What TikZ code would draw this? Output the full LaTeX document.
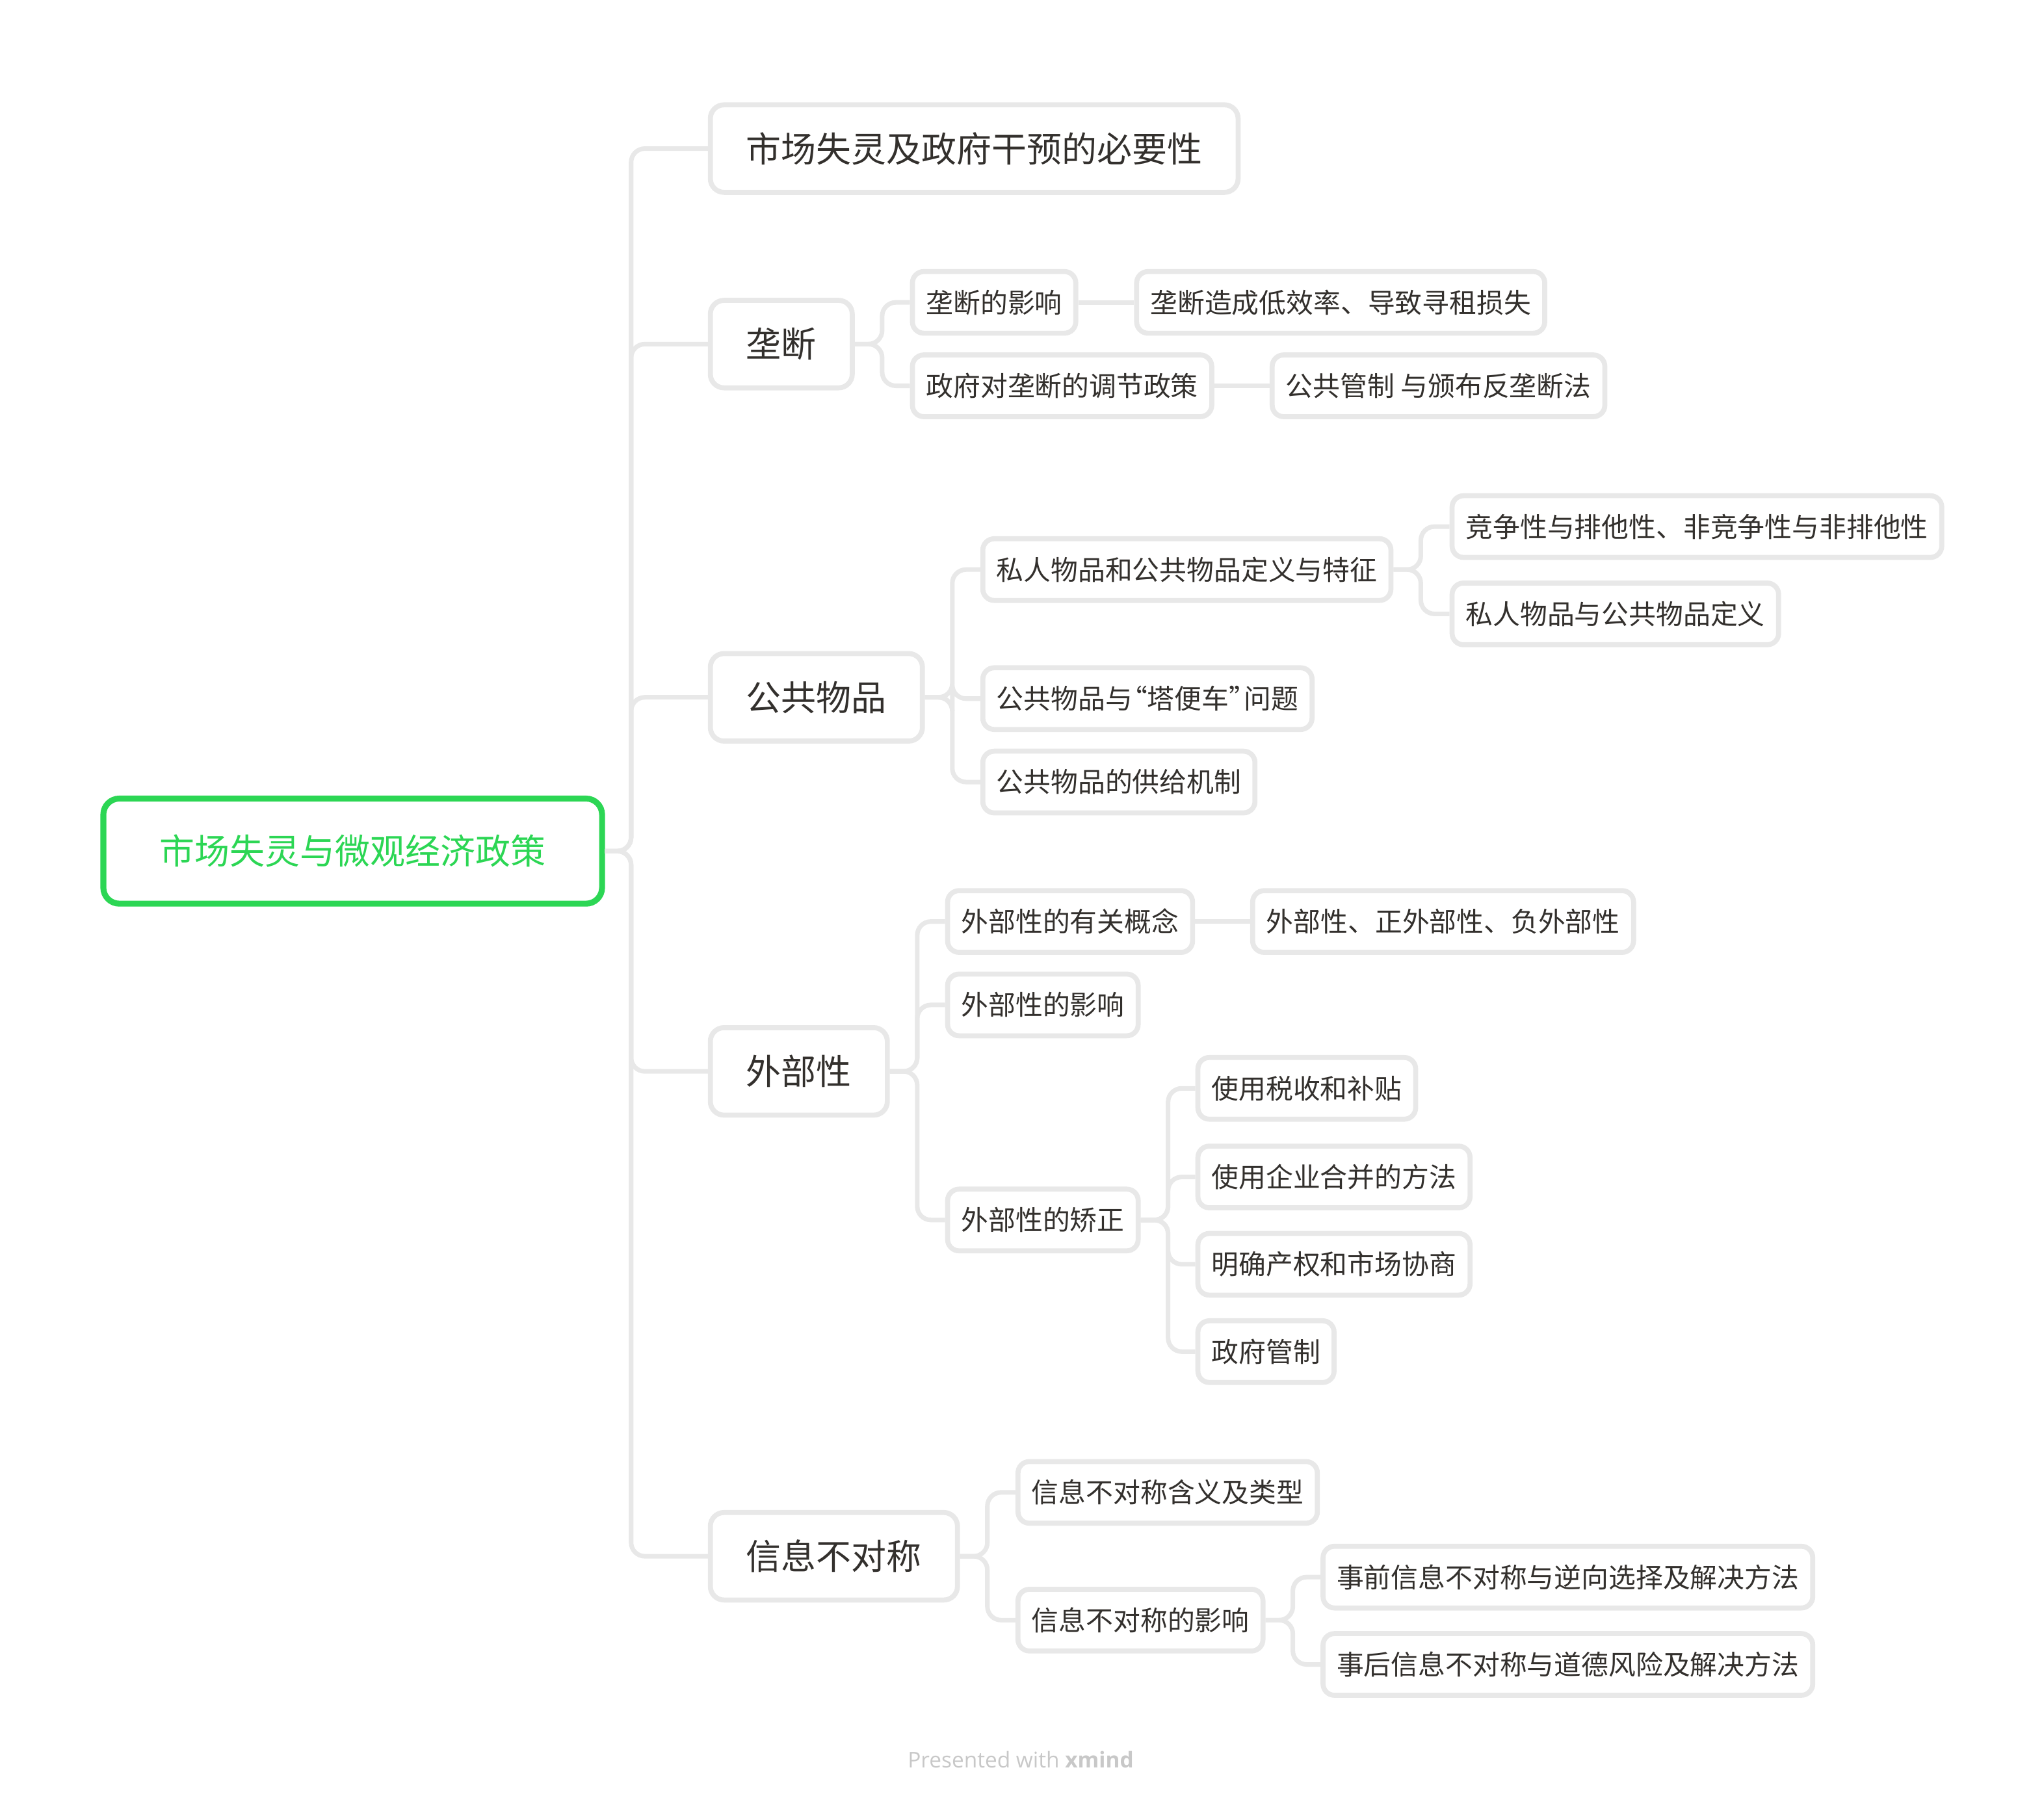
\documentclass[tikz,border=0pt]{standalone}
\usepackage{fontspec}
\setmainfont{Noto Sans CJK SC}
\newfontfamily\footfont{Open Sans}
\definecolor{xgreen}{RGB}{44,214,84}
\definecolor{xline}{RGB}{232,232,232}
\definecolor{xtext}{RGB}{51,48,45}
\definecolor{xfoot}{RGB}{200,200,200}

\begin{document}
\begin{tikzpicture}[x=0.02005cm,y=-0.02005cm,
 root/.style={draw=xgreen,line width=2.6pt,rounded corners=7pt,text=xgreen,font=\fontsize{15.35}{17}\selectfont,minimum height=46pt,inner xsep=24.7pt,anchor=west},
 topic/.style={draw=xline,line width=2.2pt,rounded corners=6pt,text=xtext,font=\fontsize{15.35}{17}\selectfont,minimum height=38.3pt,inner xsep=15.7pt,anchor=west},
 sub/.style={draw=xline,line width=2.2pt,rounded corners=5pt,text=xtext,font=\fontsize{11.9}{13}\selectfont,minimum height=27pt,inner xsep=6pt,anchor=west},
 link/.style={draw=xline,line width=2pt,rounded corners=6pt}]
\useasboundingbox (0,0) rectangle (1568,1379);
\node[root] (r) at (77,653) {市场失灵与微观经济政策};
\node[topic] (t1) at (543,114) {市场失灵及政府干预的必要性};
\node[topic] (t2) at (543,264) {垄断};
\node[sub] (t2a) at (698,232) {垄断的影响};
\node[sub] (t2a1) at (870,232) {垄断造成低效率、导致寻租损失};
\node[sub] (t2b) at (698,296) {政府对垄断的调节政策};
\node[sub] (t2b1) at (974,296) {公共管制 与颁布反垄断法};
\node[topic] (t3) at (543,535) {公共物品};
\node[sub] (t3a) at (752,437) {私人物品和公共物品定义与特征};
\node[sub] (t3a1) at (1112,404) {竞争性与排他性、非竞争性与非排他性};
\node[sub] (t3a2) at (1112,471) {私人物品与公共物品定义};
\node[sub] (t3b) at (752,536) {公共物品与\kern-0.45em“塔便车”\kern-0.45em问题};
\node[sub] (t3c) at (752,600) {公共物品的供给机制};
\node[topic] (t4) at (543,822) {外部性};
\node[sub] (t4a) at (725,707) {外部性的有关概念};
\node[sub] (t4a1) at (959,707) {外部性、正外部性、负外部性};
\node[sub] (t4b) at (725,771) {外部性的影响};
\node[sub] (t4c) at (725,936) {外部性的矫正};
\node[sub] (t4c1) at (917,835) {使用税收和补贴};
\node[sub] (t4c2) at (917,903) {使用企业合并的方法};
\node[sub] (t4c3) at (917,970) {明确产权和市场协商};
\node[sub] (t4c4) at (917,1037) {政府管制};
\node[topic] (t5) at (543,1194) {信息不对称};
\node[sub] (t5a) at (779,1145) {信息不对称含义及类型};
\node[sub] (t5b) at (779,1243) {信息不对称的影响};
\node[sub] (t5b1) at (1013,1210) {事前信息不对称与逆向选择及解决方法};
\node[sub] (t5b2) at (1013,1277) {事后信息不对称与道德风险及解决方法};
\node[text=xfoot,font=\footfont\fontsize{9.5}{11}\selectfont] (ft) at (783,1350) {Presented with \textbf{xmind}};
% branches
\foreach \c in {t1,t2,t3,t4,t5} \draw[link] (r.east) -- ++(20,0) |- (\c.west);
\foreach \c in {t2a,t2b} \draw[link] (t2.east) -- ++(21,0) |- (\c.west);
\foreach \c in {t3a,t3b,t3c} \draw[link] (t3.east) -- ++(21,0) |- (\c.west);
\foreach \c in {t3a1,t3a2} \draw[link] (t3a.east) -- ++(21,0) |- (\c.west);
\foreach \c in {t4a,t4b,t4c} \draw[link] (t4.east) -- ++(21,0) |- (\c.west);
\foreach \c in {t4c1,t4c2,t4c3,t4c4} \draw[link] (t4c.east) -- ++(21,0) |- (\c.west);
\foreach \c in {t5a,t5b} \draw[link] (t5.east) -- ++(21,0) |- (\c.west);
\foreach \c in {t5b1,t5b2} \draw[link] (t5b.east) -- ++(21,0) |- (\c.west);
\draw[link] (t2a.east) -- (t2a1.west);
\draw[link] (t2b.east) -- (t2b1.west);
\draw[link] (t4a.east) -- (t4a1.west);
\end{tikzpicture}
\end{document}
